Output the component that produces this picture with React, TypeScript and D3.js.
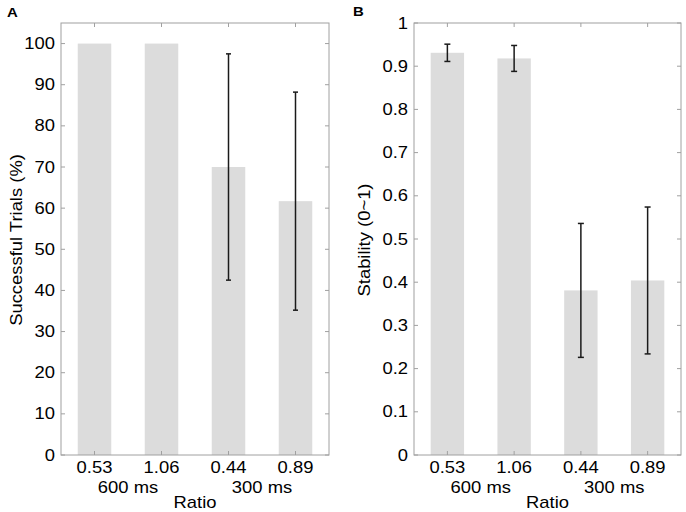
import * as d3 from "d3";

// ratio categories shared by both panels
const categories = ["0.53", "1.06", "0.44", "0.89"];
const groupLabels = ["600 ms", "300 ms"];

// panel A: successful trials (%)
const trialsMean = [100, 100, 70, 61.7];
const trialsErr = [0, 0, 27.5, 26.5];
const trialsTicks = [0, 10, 20, 30, 40, 50, 60, 70, 80, 90, 100];

// panel B: stability (0~1)
const stabilityMean = [0.931, 0.918, 0.381, 0.404];
const stabilityErr = [0.02, 0.03, 0.155, 0.17];
const stabilityTicks = [0, 0.1, 0.2, 0.3, 0.4, 0.5, 0.6, 0.7, 0.8, 0.9, 1];

const FONT = "'Liberation Sans', Arial, sans-serif";
const AXIS = "#a0a0a0";
const BAR = "#dcdcdc";
const STRETCH = 1.15; // the source text is a bit wider than plain Arial

interface LabelProps {
  x: number;
  y: number;
  anchor?: "start" | "middle" | "end";
  baseline?: string;
  size?: number;
  weight?: string;
  rotate?: number;
  children: React.ReactNode;
}

const Label = ({ x, y, anchor = "middle", baseline = "central", size = 16, weight, rotate = 0, children }: LabelProps) => (
  <text
    transform={`translate(${x},${y}) rotate(${rotate}) scale(${STRETCH},1)`}
    textAnchor={anchor}
    dominantBaseline={baseline}
    fontSize={size}
    fontWeight={weight}
    fill="#000"
  >
    {children}
  </text>
);

interface PanelProps {
  letter: string;
  letterX: number;
  letterY: number;
  left: number;
  right: number;
  titleX: number;
  means: number[];
  errs: number[];
  ticks: number[];
  yMax: number;
  yTitle: string;
  capWidth: number;
  fmt: (v: number) => string;
}

const Panel = ({ letter, letterX, letterY, left, right, titleX, means, errs, ticks, yMax, yTitle, capWidth, fmt }: PanelProps) => {
  const top = 23;
  const bottom = 455;

  const x = d3.scaleBand<string>().domain(categories).range([left, right]).padding(0);
  const y = d3.scaleLinear().domain([0, yMax]).range([bottom, top]);
  const bw = x.bandwidth() * 0.5;
  const cx = (c: string) => (x(c) ?? 0) + x.bandwidth() / 2;
  const tickLen = 4;

  const groupX = [
    (cx(categories[0]) + cx(categories[1])) / 2,
    (cx(categories[2]) + cx(categories[3])) / 2,
  ];

  return (
    <g fontFamily={FONT}>
      <Label x={letterX} y={letterY} anchor="start" size={13} weight="bold">
        {letter}
      </Label>

      {/* bars */}
      {categories.map((c, i) => (
        <rect key={c} x={cx(c) - bw / 2} y={y(means[i])} width={bw} height={bottom - y(means[i])} fill={BAR} />
      ))}

      {/* error bars */}
      {categories.map((c, i) =>
        errs[i] > 0 ? (
          <g key={c} stroke="#1a1a1a" strokeWidth={1.5}>
            <line x1={cx(c)} x2={cx(c)} y1={y(means[i] + errs[i])} y2={y(means[i] - errs[i])} />
            <line x1={cx(c) - capWidth / 2} x2={cx(c) + capWidth / 2} y1={y(means[i] + errs[i])} y2={y(means[i] + errs[i])} />
            <line x1={cx(c) - capWidth / 2} x2={cx(c) + capWidth / 2} y1={y(means[i] - errs[i])} y2={y(means[i] - errs[i])} />
          </g>
        ) : null
      )}

      {/* box */}
      <rect x={left} y={top} width={right - left} height={bottom - top} fill="none" stroke={AXIS} strokeWidth={1} />

      {/* y ticks, mirrored on the right */}
      {ticks.map((t) => (
        <g key={t}>
          <line x1={left} x2={left + tickLen} y1={y(t)} y2={y(t)} stroke={AXIS} />
          <line x1={right} x2={right - tickLen} y1={y(t)} y2={y(t)} stroke={AXIS} />
          <Label x={left - 6} y={y(t)} anchor="end">
            {fmt(t)}
          </Label>
        </g>
      ))}

      {/* x ticks, mirrored on top */}
      {categories.map((c) => (
        <g key={c}>
          <line x1={cx(c)} x2={cx(c)} y1={bottom} y2={bottom - tickLen} stroke={AXIS} />
          <line x1={cx(c)} x2={cx(c)} y1={top} y2={top + tickLen} stroke={AXIS} />
          <Label x={cx(c)} y={467}>
            {c}
          </Label>
        </g>
      ))}

      {groupLabels.map((g, i) => (
        <Label key={g} x={groupX[i]} y={487}>
          {g}
        </Label>
      ))}

      <Label x={(left + right) / 2} y={502}>
        Ratio
      </Label>

      <Label x={titleX} y={240} rotate={-90} baseline="alphabetic">
        {yTitle}
      </Label>
    </g>
  );
};

export default function App() {
  return (
    <svg width={686} height={512} style={{ position: "absolute", left: 0, top: 0, background: "#fff" }}>
      <Panel
        letter="A"
        letterX={7}
        letterY={12}
        left={61}
        right={329}
        titleX={22}
        means={trialsMean}
        errs={trialsErr}
        ticks={trialsTicks}
        yMax={105}
        yTitle="Successful Trials (%)"
        capWidth={5}
        fmt={(v) => String(v)}
      />
      <Panel
        letter="B"
        letterX={353}
        letterY={11}
        left={414}
        right={681}
        titleX={370}
        means={stabilityMean}
        errs={stabilityErr}
        ticks={stabilityTicks}
        yMax={1}
        yTitle="Stability (0~1)"
        capWidth={6}
        fmt={(v) => d3.format("~g")(v)}
      />
    </svg>
  );
}
